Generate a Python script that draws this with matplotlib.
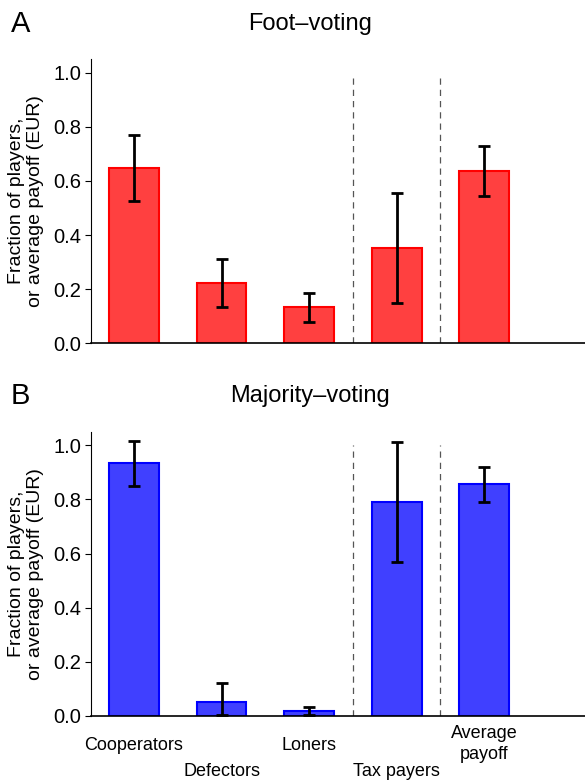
import matplotlib
matplotlib.use("Agg")
import matplotlib.pyplot as plt
import numpy as np

plt.rcParams['font.family'] = ['Liberation Sans', 'DejaVu Sans']

categories = ['Cooperators', 'Defectors', 'Loners', 'Tax payers', 'Average\npayoff']
# label rows: 0 = upper row, 1 = lower row, 2 = two-line label
label_rows = [0, 1, 0, 1, 2]

foot_vals = [0.647, 0.222, 0.135, 0.352, 0.638]
foot_lo = [0.525, 0.133, 0.080, 0.148, 0.545]
foot_hi = [0.768, 0.310, 0.185, 0.556, 0.729]

major_vals = [0.934, 0.052, 0.018, 0.791, 0.856]
major_lo = [0.848, 0.002, 0.002, 0.569, 0.791]
major_hi = [1.015, 0.122, 0.034, 1.010, 0.921]

yticks = [0.0, 0.2, 0.4, 0.6, 0.8, 1.0]
separators = [3.5, 4.5]

fig = plt.figure(figsize=(5.85, 7.82), dpi=100)


def draw_panel(rect, vals, lo, hi, face, edge, letter, title, show_labels):
    ax = fig.add_axes(rect)
    x = np.arange(1, len(vals) + 1)
    vals = np.array(vals)
    yerr = [vals - np.array(lo), np.array(hi) - vals]
    ax.bar(x, vals, width=0.57, color=face, edgecolor=edge, linewidth=1.5, zorder=2)
    ax.errorbar(x, vals, yerr=yerr, fmt='none', ecolor='black', elinewidth=2.0,
                capsize=4.5, capthick=2.0, zorder=3)
    for s in separators:
        ax.plot([s, s], [0, 1.0], color='#555555', linestyle=(0, (5, 4)), linewidth=0.9, zorder=1)
    ax.set_xlim(0.51, 6.15)
    ax.set_ylim(0, 1.05)
    ax.set_yticks(yticks)
    ax.set_yticklabels(['%.1f' % t for t in yticks], fontsize=14.5)
    ax.set_xticks([])
    ax.spines['top'].set_visible(False)
    ax.spines['right'].set_visible(False)
    ax.spines['left'].set_linewidth(0.8)
    ax.spines['bottom'].set_linewidth(1.2)
    ax.tick_params(axis='y', direction='out', length=4, width=0.8, pad=3)
    ax.set_ylabel('Fraction of players,\nor average payoff (EUR)', fontsize=14,
                  labelpad=7, linespacing=1.15)
    if show_labels:
        tr = ax.get_xaxis_transform()
        row_y = {0: -0.102, 1: -0.195, 2: -0.098}
        for xi, lab, r in zip(x, categories, label_rows):
            ax.text(xi, row_y[r], lab, transform=tr, ha='center', va='center',
                    fontsize=13, linespacing=1.3)
    top = rect[1] + rect[3]
    fig.text(0.035, top + 0.045, letter, fontsize=21, ha='center', va='center')
    fig.text(0.53, top + 0.045, title, fontsize=17, ha='center', va='center')
    return ax


draw_panel([0.1556, 0.561, 0.8444, 0.3635], foot_vals, foot_lo, foot_hi,
           '#FF4040', '#FF0000', 'A', 'Foot–voting', False)
draw_panel([0.1556, 0.0844, 0.8444, 0.3636], major_vals, major_lo, major_hi,
           '#4040FF', '#0000FF', 'B', 'Majority–voting', True)

fig.savefig('out.png', dpi=100)
